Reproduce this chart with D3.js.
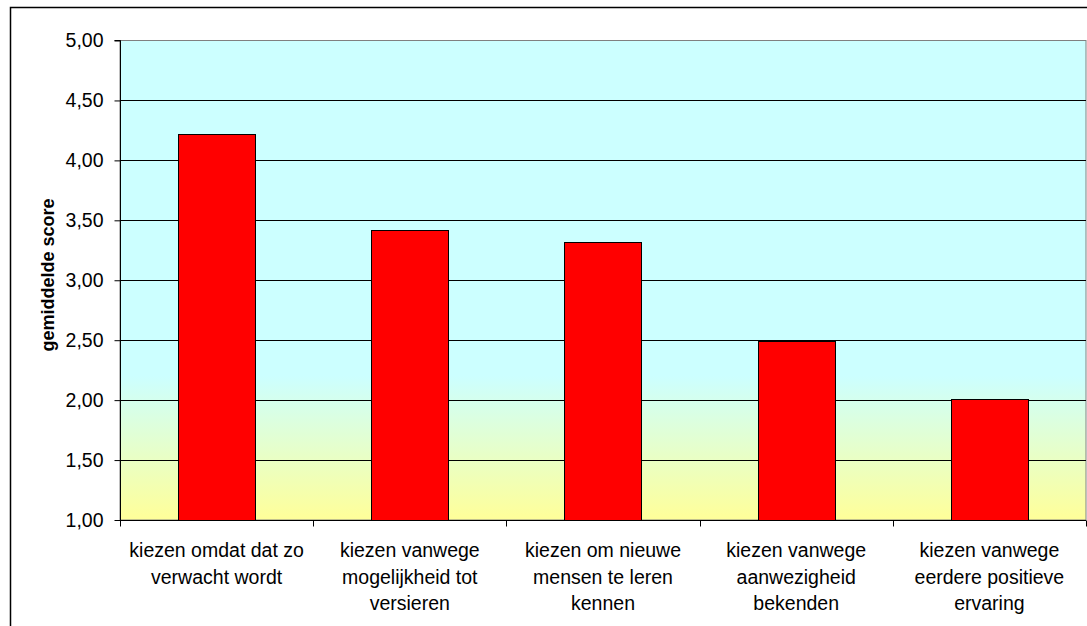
<!DOCTYPE html>
<html><head><meta charset="utf-8">
<script src="https://cdn.jsdelivr.net/npm/d3@7"></script>
<style>body{margin:0;background:#fff}svg{display:block}text{font-family:"Liberation Sans",Arial,sans-serif}</style>
</head><body><svg id="c" width="1087" height="626"></svg>
<script>
const categories = [
  ["kiezen omdat dat zo", "verwacht wordt"],
  ["kiezen vanwege", "mogelijkheid tot", "versieren"],
  ["kiezen om nieuwe", "mensen te leren", "kennen"],
  ["kiezen vanwege", "aanwezigheid", "bekenden"],
  ["kiezen vanwege", "eerdere positieve", "ervaring"]
];
const values = [4.22, 3.42, 3.32, 2.49, 2.01];
const yTicks = [1, 1.5, 2, 2.5, 3, 3.5, 4, 4.5, 5];
const yLabel = "gemiddelde score";

const svg = d3.select("#c");
const m = {l:120, r:1086, t:40.5, b:520};
const x = d3.scaleBand().domain(d3.range(values.length)).range([m.l, m.r]).paddingInner(0.6).paddingOuter(0.3);
const xb = d3.scaleBand().domain(d3.range(values.length)).range([m.l, m.r]);
const y = d3.scaleLinear().domain([1,5]).range([m.b, m.t]);

// outer border
svg.append("rect").attr("x",10.5).attr("y",7.5).attr("width",1090).attr("height",640)
  .attr("fill","none").attr("stroke","#000").attr("stroke-width",1.5);

const defs = svg.append("defs");
const g = defs.append("linearGradient").attr("id","bg").attr("x1",0).attr("y1",0).attr("x2",0).attr("y2",1);
g.append("stop").attr("offset","0%").attr("stop-color","#CCFFFF");
g.append("stop").attr("offset","70%").attr("stop-color","#CCFFFF");
g.append("stop").attr("offset","100%").attr("stop-color","#FFFF99");

svg.append("rect").attr("x",m.l).attr("y",m.t).attr("width",m.r-m.l).attr("height",m.b-m.t)
  .attr("fill","url(#bg)").attr("stroke","#808080").attr("stroke-width",1);

// gridlines
svg.append("g").selectAll("line").data(yTicks.filter(d=>d>1 && d<5)).join("line")
  .attr("x1",m.l).attr("x2",m.r).attr("y1",d=>Math.round(y(d))+0.5).attr("y2",d=>Math.round(y(d))+0.5)
  .attr("stroke","#000").attr("stroke-width",1);

// bars
svg.append("g").selectAll("rect").data(values).join("rect")
  .attr("x",(d,i)=>Math.round(x(i))+0.5).attr("width",Math.round(x.bandwidth()))
  .attr("y",d=>Math.round(y(d))+0.5).attr("height",d=>Math.round(y(1))-Math.round(y(d)))
  .attr("fill","#FF0000").attr("stroke","#000").attr("stroke-width",1);

// y axis
const ya = svg.append("g").attr("transform",`translate(${m.l+0.5},0)`)
  .call(d3.axisLeft(y).tickValues(yTicks).tickSize(6).tickPadding(11)
    .tickFormat(d=>d3.format(".2f")(d).replace(".",",")));
ya.attr("font-size",null).attr("font-family",null);
ya.select(".domain").attr("stroke","#000").attr("d",`M-6,${m.t}H0V${m.b}`);
ya.selectAll("text").attr("font-size","19.5px").attr("fill","#000");
ya.selectAll(".tick line").attr("stroke","#000");

// x axis
const xa = svg.append("g").attr("transform",`translate(0,${m.b+0.5})`);
xa.append("line").attr("x1",m.l).attr("x2",m.r).attr("stroke","#000");
xa.selectAll(".t").data(d3.range(values.length+1)).join("line")
  .attr("x1",i=>Math.round(m.l+i*xb.step())+0.5).attr("x2",i=>Math.round(m.l+i*xb.step())+0.5)
  .attr("y1",0).attr("y2",6).attr("stroke","#000");

const lab = svg.append("g");
categories.forEach((lines,i)=>{
  const t = lab.append("text").attr("text-anchor","middle").attr("font-size","19.5px").attr("fill","#000")
    .attr("x", xb(i)+xb.bandwidth()/2);
  lines.forEach((s,j)=>t.append("tspan").attr("x", xb(i)+xb.bandwidth()/2).attr("y",557+j*26.5).text(s));
});

svg.append("text").attr("transform",`translate(54,275) rotate(-90)`)
  .attr("text-anchor","middle").attr("font-size","18px").attr("font-weight","bold").text(yLabel);
</script></body></html>
